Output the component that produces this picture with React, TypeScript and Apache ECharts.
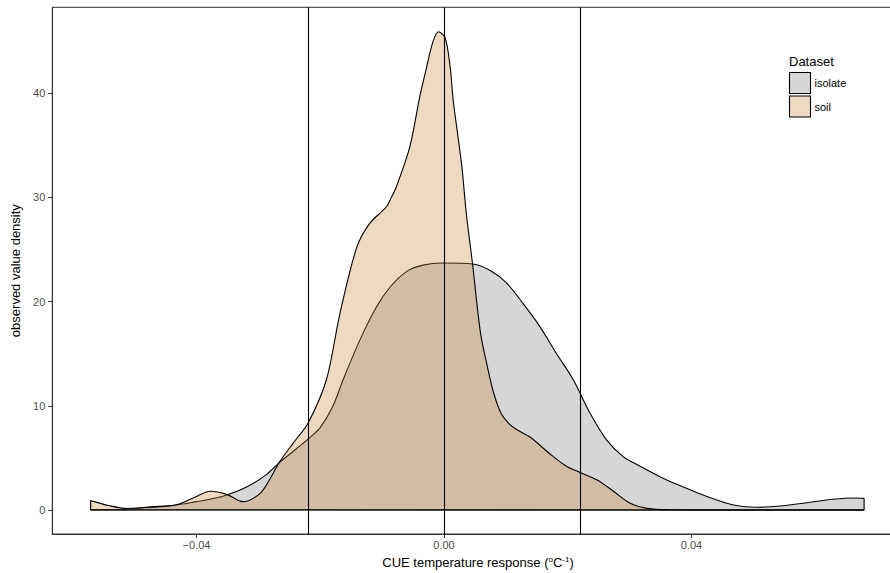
import React, { useEffect, useRef } from "react";
import * as echarts from "echarts";

// soil density curve (x = CUE temperature response, y = density)
const soilX = [
  -0.0571, -0.054, -0.0512, -0.0475, -0.0432, -0.04, -0.0378, -0.0351, -0.0325, -0.0297,
  -0.0281, -0.0267, -0.0244, -0.022, -0.019, -0.0168, -0.0141, -0.012, -0.0093, -0.0085,
  -0.0077, -0.0055, -0.0039, -0.0028, -0.0018, -0.0009, 0.0002, 0.001, 0.0015, 0.0029,
  0.0036, 0.0046, 0.0059, 0.007, 0.008, 0.0092, 0.0105, 0.0118, 0.0139, 0.0171,
  0.0198, 0.022, 0.0247, 0.0274, 0.0301, 0.0328, 0.0365, 0.045, 0.0679,
];
const soilY = [
  0.9, 0.4, 0.15, 0.26, 0.5, 1.3, 1.8, 1.5, 0.8, 1.6,
  3.0, 4.5, 6.4, 8.3, 12.5, 18.9, 25.2, 27.5, 29.1, 30.0,
  31.0, 34.9, 39.7, 42.5, 44.9, 45.9, 45.3, 42.5, 39.3, 32.9,
  28.5, 23.7, 17.0, 13.8, 11.3, 9.3, 8.3, 7.7, 7.0, 5.4,
  4.2, 3.6, 2.9, 1.8, 0.64, 0.16, 0.02, 0, 0,
];

// isolate density curve
const isolateX = [
  -0.0571, -0.054, -0.0512, -0.0481, -0.0432, -0.04, -0.0373, -0.0351, -0.0319, -0.0287,
  -0.0267, -0.0238, -0.0216, -0.02, -0.018, -0.0163, -0.0136, -0.0109, -0.0087, -0.006,
  -0.0034, -0.0001, 0.0047, 0.0074, 0.0101, 0.0128, 0.0155, 0.0182, 0.0209, 0.0236,
  0.0263, 0.029, 0.0317, 0.0349, 0.0371, 0.0425, 0.0468, 0.0505, 0.0543, 0.0586,
  0.0629, 0.0662, 0.0679,
];
const isolateY = [
  0.03, 0.02, 0.05, 0.26, 0.48, 0.8, 1.1, 1.44, 2.2, 3.4,
  4.5, 5.9, 7.0, 7.9, 9.9, 12.5, 16.3, 19.5, 21.4, 22.9,
  23.5, 23.7, 23.6, 23.0, 21.8, 19.8, 17.6, 15.0, 12.5, 9.3,
  6.7, 5.1, 4.2, 3.2, 2.6, 1.3, 0.48, 0.26, 0.38, 0.7,
  1.03, 1.15, 1.12,
];

const vLines = [-0.022, 0, 0.022];
const xTicks = [-0.04, 0, 0.04];
const yTicks = [0, 10, 20, 30, 40];
const datasets = ["isolate", "soil"];

const FONT = "'Liberation Sans', Arial, Helvetica, sans-serif";
const ISO_FILL = "rgba(128,128,128,0.32)";
const SOIL_FILL = "rgba(200,128,56,0.3)";

function zip(xs: number[], ys: number[]) {
  return xs.map((x, i) => [x, ys[i]]);
}
function edges(xs: number[], ys: number[]) {
  const n = xs.length - 1;
  return [
    [xs[0], ys[0]],
    [xs[0], 0],
    [xs[n], 0],
    [xs[n], ys[n]],
  ];
}

export default function App() {
  const ref = useRef<HTMLDivElement>(null);
  useEffect(() => {
    if (!ref.current) return;
    const chart = echarts.init(ref.current, null, { renderer: "svg" });
    const fmtX = (v: number) =>
      v < 0 ? "\u2212" + Math.abs(v).toFixed(2) : v.toFixed(2);
    chart.setOption({
      animation: false,
      textStyle: { fontFamily: FONT },
      grid: {
        left: 52.3,
        top: 7.3,
        right: -13.7,
        bottom: 39,
        show: true,
        borderColor: "#333",
        borderWidth: 1,
        backgroundColor: "transparent",
        containLabel: false,
        outerBoundsMode: "none",
      },
      xAxis: {
        type: "value",
        min: -0.0633,
        max: 0.0743,
        splitLine: { show: false },
        axisLine: { show: true, onZero: false, lineStyle: { color: "#333", width: 1 } },
        axisTick: {
          show: true,
          length: 4,
          customValues: xTicks,
          lineStyle: { color: "#333" },
        },
        axisLabel: {
          customValues: xTicks,
          formatter: fmtX,
          color: "#4d4d4d",
          fontSize: 11,
          margin: 5,
          fontFamily: FONT,
        },
        name: "CUE temperature response ({sup|o}C{sup|-1})",
        nameLocation: "middle",
        nameGap: 21,
        nameTextStyle: {
          fontSize: 13,
          color: "#000",
          fontFamily: FONT,
          rich: {
            sup: { fontSize: 8, verticalAlign: "top", color: "#000", fontFamily: FONT, padding: [0, 0, 6, 0] },
          },
        },
      },
      yAxis: {
        type: "value",
        min: -2.303,
        max: 48.24,
        splitLine: { show: false },
        axisLine: { show: true, onZero: false, lineStyle: { color: "#333", width: 1 } },
        axisTick: {
          show: true,
          length: 4,
          customValues: yTicks,
          lineStyle: { color: "#333" },
        },
        axisLabel: {
          customValues: yTicks,
          formatter: (v: number) => String(v),
          color: "#4d4d4d",
          fontSize: 11,
          margin: 7,
          fontFamily: FONT,
        },
        name: "observed value density",
        nameLocation: "middle",
        nameGap: 29,
        nameTextStyle: { fontSize: 13, color: "#000", fontFamily: FONT },
      },
      series: [
        {
          name: "isolate",
          type: "line",
          data: zip(isolateX, isolateY),
          smooth: 0.3,
          symbol: "none",
          lineStyle: { color: "#000", width: 1.1 },
          areaStyle: { color: ISO_FILL, opacity: 1 },
          silent: true,
          z: 2,
        },
        {
          name: "isolate-edge",
          type: "line",
          data: edges(isolateX, isolateY),
          symbol: "none",
          lineStyle: { color: "#000", width: 1.1 },
          silent: true,
          z: 2,
        },
        {
          name: "soil",
          type: "line",
          data: zip(soilX, soilY),
          smooth: 0.3,
          symbol: "none",
          lineStyle: { color: "#000", width: 1.1 },
          areaStyle: { color: SOIL_FILL, opacity: 1 },
          silent: true,
          z: 3,
        },
        {
          name: "soil-edge",
          type: "line",
          data: edges(soilX, soilY),
          symbol: "none",
          lineStyle: { color: "#000", width: 1.1 },
          silent: true,
          z: 3,
        },
        {
          name: "vlines",
          type: "line",
          data: [],
          silent: true,
          z: 4,
          markLine: {
            silent: true,
            precision: 4,
            symbol: ["none", "none"],
            label: { show: false },
            lineStyle: { color: "#000", type: "solid", width: 1.1 },
            data: vLines.map((v) => ({ xAxis: v })),
            z: 4,
          },
        },
      ],
      graphic: [
        {
          type: "text",
          x: 789,
          y: 61,
          style: {
            text: "Dataset",
            fontSize: 13,
            fontFamily: FONT,
            fill: "#000",
            verticalAlign: "middle",
          },
        },
        ...datasets.map((d, i) => ({
          type: "rect",
          shape: { x: 789.5, y: 72.5 + i * 23.5, width: 21, height: 21 },
          style: {
            fill: i === 0 ? ISO_FILL : SOIL_FILL,
            stroke: "#000",
            lineWidth: 1.1,
          },
        })),
        ...datasets.map((d, i) => ({
          type: "text",
          x: 814.5,
          y: 83.3 + i * 23.5,
          style: {
            text: d,
            fontSize: 11,
            fontFamily: FONT,
            fill: "#000",
            verticalAlign: "middle",
          },
        })),
      ],
    });
    return () => chart.dispose();
  }, []);
  return (
    <div
      ref={ref}
      style={{ position: "absolute", left: 0, top: 0, width: 890, height: 573 }}
    />
  );
}
